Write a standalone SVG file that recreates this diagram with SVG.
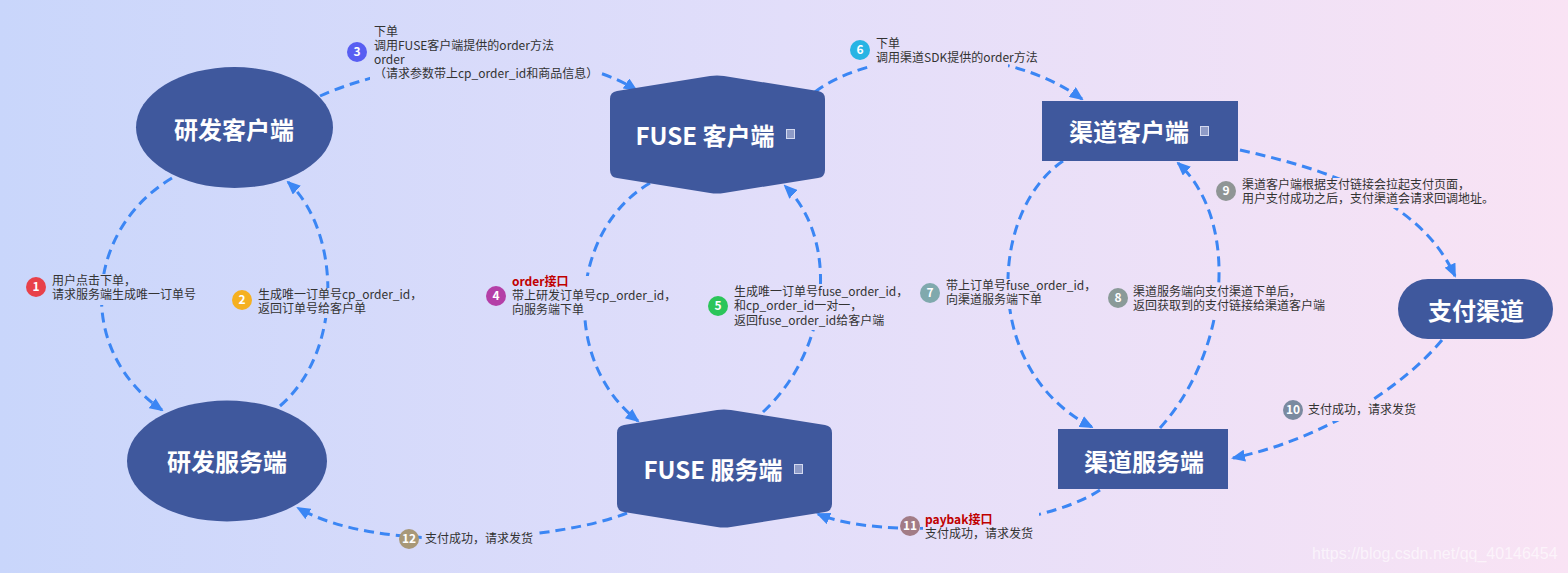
<svg xmlns="http://www.w3.org/2000/svg" width="1568" height="573" viewBox="0 0 1568 573">
<defs>
<linearGradient id="bg" x1="0" y1="0" x2="1" y2="0">
<stop offset="0" stop-color="#c9d6fb"/>
<stop offset="0.5" stop-color="#e2defa"/>
<stop offset="1" stop-color="#f9e3f4"/>
</linearGradient>
<marker id="arr" viewBox="0 0 14 12" refX="12" refY="6" markerWidth="14" markerHeight="12" markerUnits="userSpaceOnUse" orient="auto">
<path d="M0,0 L14,6 L0,12 Z" fill="#3b86f4"/>
</marker>
<mask id="gaps" maskUnits="userSpaceOnUse" x="0" y="0" width="1568" height="573">
<rect x="0" y="0" width="1568" height="573" fill="#fff"/>
<rect x="370" y="24" width="230" height="60" fill="#000"/>
<rect x="868" y="34" width="140" height="34" fill="#000"/>
<rect x="50" y="274" width="148" height="31" fill="#000"/>
<rect x="256" y="288" width="166" height="30" fill="#000"/>
<rect x="510" y="276" width="164" height="43" fill="#000"/>
<rect x="732" y="285" width="175" height="45" fill="#000"/>
<rect x="944" y="279" width="150" height="30" fill="#000"/>
<rect x="1131" y="285" width="200" height="30" fill="#000"/>
<rect x="1240" y="178" width="254" height="30" fill="#000"/>
<rect x="1306" y="401" width="114" height="20" fill="#000"/>
<rect x="923" y="512" width="116" height="31" fill="#000"/>
<rect x="423" y="530" width="113" height="19" fill="#000"/>
</mask>
<path id="hex" d="M710,76 Q717,75 724,76 L818,91 Q825,92 825,99 L825,170 Q825,177 818,178 L724,193 Q717,194 710,193 L617,178 Q610,177 610,170 L610,99 Q610,92 617,91 Z"/>
</defs>
<style>
.node{fill:#3f589d}
.nt{font-family:"Noto Sans CJK SC","Noto Sans",sans-serif;font-weight:bold;font-size:24px;fill:#fff;text-anchor:middle}
.lbl{font-family:"Noto Sans CJK SC","Noto Sans",sans-serif;font-size:12px;fill:#333}
.red{fill:#c00000;font-weight:bold}
.num{font-family:"Noto Sans CJK SC","Noto Sans",sans-serif;font-size:12px;font-weight:bold;fill:#fff;text-anchor:middle}
.con{fill:none;stroke:#3b86f4;stroke-width:3;stroke-dasharray:10 6;marker-end:url(#arr)}
.ico{fill:#8e9bc7;stroke:#d3d9f0;stroke-width:1}
</style>
<rect x="0" y="0" width="1568" height="573" fill="url(#bg)"/>

<g id="connectors" mask="url(#gaps)">
<path class="con" d="M172,178 C85,230 75,350 162,410"/>
<path class="con" d="M280,406 C345,350 340,230 288,182"/>
<path class="con" d="M320,96 C400,60 560,40 636,90"/>
<path class="con" d="M650,183 C570,230 560,360 638,421"/>
<path class="con" d="M763,412 C830,350 840,240 785,186"/>
<path class="con" d="M815,92 C870,50 1000,40 1082,99"/>
<path class="con" d="M1063,161 C990,210 980,370 1092,427"/>
<path class="con" d="M1160,428 C1230,350 1240,220 1178,163"/>
<path class="con" d="M1240,150 C1330,170 1420,200 1455,276"/>
<path class="con" d="M1442,340 C1400,390 1320,440 1233,458"/>
<path class="con" d="M1100,490 C1040,530 880,540 818,514"/>
<path class="con" d="M627,513 C560,540 380,555 298,508"/>
</g>

<g id="node-yf-client">
<ellipse class="node" cx="234.5" cy="127.5" rx="98.5" ry="60.5"/>
<text class="nt" x="234" y="139">研发客户端</text>
</g>
<g id="node-yf-server">
<ellipse class="node" cx="227" cy="461" rx="100" ry="60.5"/>
<text class="nt" x="227" y="471">研发服务端</text>
</g>
<g id="node-fuse-client">
<use href="#hex" class="node"/>
<text class="nt" x="705" y="145">FUSE 客户端</text>
<rect class="ico" x="786.5" y="129.5" width="8" height="9"/>
</g>
<g id="node-fuse-server">
<use href="#hex" class="node" transform="translate(7,334)"/>
<text class="nt" x="713" y="479">FUSE 服务端</text>
<rect class="ico" x="794.5" y="464.5" width="8" height="9"/>
</g>
<g id="node-qd-client">
<rect class="node" x="1042" y="101" width="196" height="60"/>
<text class="nt" x="1129" y="141">渠道客户端</text>
<rect class="ico" x="1200.5" y="126.5" width="8" height="9"/>
</g>
<g id="node-qd-server">
<rect class="node" x="1058" y="429" width="170" height="60"/>
<text class="nt" x="1144" y="471">渠道服务端</text>
</g>
<g id="node-pay">
<rect class="node" x="1398" y="279" width="155" height="60" rx="30" ry="30"/>
<text class="nt" x="1476" y="320">支付渠道</text>
</g>

<g id="labels">
<circle cx="36" cy="287" r="10" fill="#e8414a"/><text class="num" x="36" y="291">1</text>
<text class="lbl" x="52" y="285">用户点击下单，</text>
<text class="lbl" x="52" y="299">请求服务端生成唯一订单号</text>

<circle cx="242" cy="300" r="10" fill="#f5b020"/><text class="num" x="242" y="304">2</text>
<text class="lbl" x="258" y="299">生成唯一订单号cp_order_id，</text>
<text class="lbl" x="258" y="313">返回订单号给客户单</text>

<circle cx="357" cy="52" r="10" fill="#585ef2"/><text class="num" x="357" y="56">3</text>
<text class="lbl" x="374" y="36">下单</text>
<text class="lbl" x="374" y="50">调用FUSE客户端提供的order方法</text>
<text class="lbl" x="374" y="64">order</text>
<text class="lbl" x="374" y="78">（请求参数带上cp_order_id和商品信息）</text>

<circle cx="496" cy="296" r="10" fill="#b43fa7"/><text class="num" x="496" y="300">4</text>
<text class="lbl red" x="512" y="286">order接口</text>
<text class="lbl" x="512" y="300">带上研发订单号cp_order_id，</text>
<text class="lbl" x="512" y="314">向服务端下单</text>

<circle cx="718" cy="306" r="10" fill="#2bc55a"/><text class="num" x="718" y="310">5</text>
<text class="lbl" x="734" y="296">生成唯一订单号fuse_order_id，</text>
<text class="lbl" x="734" y="310">和cp_order_id一对一，</text>
<text class="lbl" x="734" y="325">返回fuse_order_id给客户端</text>

<circle cx="860" cy="50" r="10" fill="#27b4e4"/><text class="num" x="860" y="54">6</text>
<text class="lbl" x="876" y="48">下单</text>
<text class="lbl" x="876" y="62">调用渠道SDK提供的order方法</text>

<circle cx="930" cy="293" r="10" fill="#80a9ad"/><text class="num" x="930" y="297">7</text>
<text class="lbl" x="946" y="290">带上订单号fuse_order_id，</text>
<text class="lbl" x="946" y="304">向渠道服务端下单</text>

<circle cx="1118" cy="298" r="10" fill="#8a9a98"/><text class="num" x="1118" y="302">8</text>
<text class="lbl" x="1133" y="296">渠道服务端向支付渠道下单后，</text>
<text class="lbl" x="1133" y="310">返回获取到的支付链接给渠道客户端</text>

<circle cx="1226" cy="191" r="10" fill="#8f9595"/><text class="num" x="1226" y="195">9</text>
<text class="lbl" x="1242" y="189">渠道客户端根据支付链接会拉起支付页面，</text>
<text class="lbl" x="1242" y="203">用户支付成功之后，支付渠道会请求回调地址。</text>

<circle cx="1293" cy="410" r="10" fill="#7a8aa0"/><text class="num" x="1293" y="414">10</text>
<text class="lbl" x="1308" y="414">支付成功，请求发货</text>

<circle cx="910" cy="526" r="10" fill="#a27c86"/><text class="num" x="910" y="530">11</text>
<text class="lbl red" x="925" y="524">paybak接口</text>
<text class="lbl" x="925" y="538">支付成功，请求发货</text>

<circle cx="409" cy="539" r="10" fill="#a89878"/><text class="num" x="409" y="543">12</text>
<text class="lbl" x="425" y="543">支付成功，请求发货</text>
</g>

<text x="1312" y="559" font-family="Liberation Sans, Arial, sans-serif" font-size="16" fill="#ffffff" fill-opacity="0.6">https://blog.csdn.net/qq_40146454</text>
</svg>
